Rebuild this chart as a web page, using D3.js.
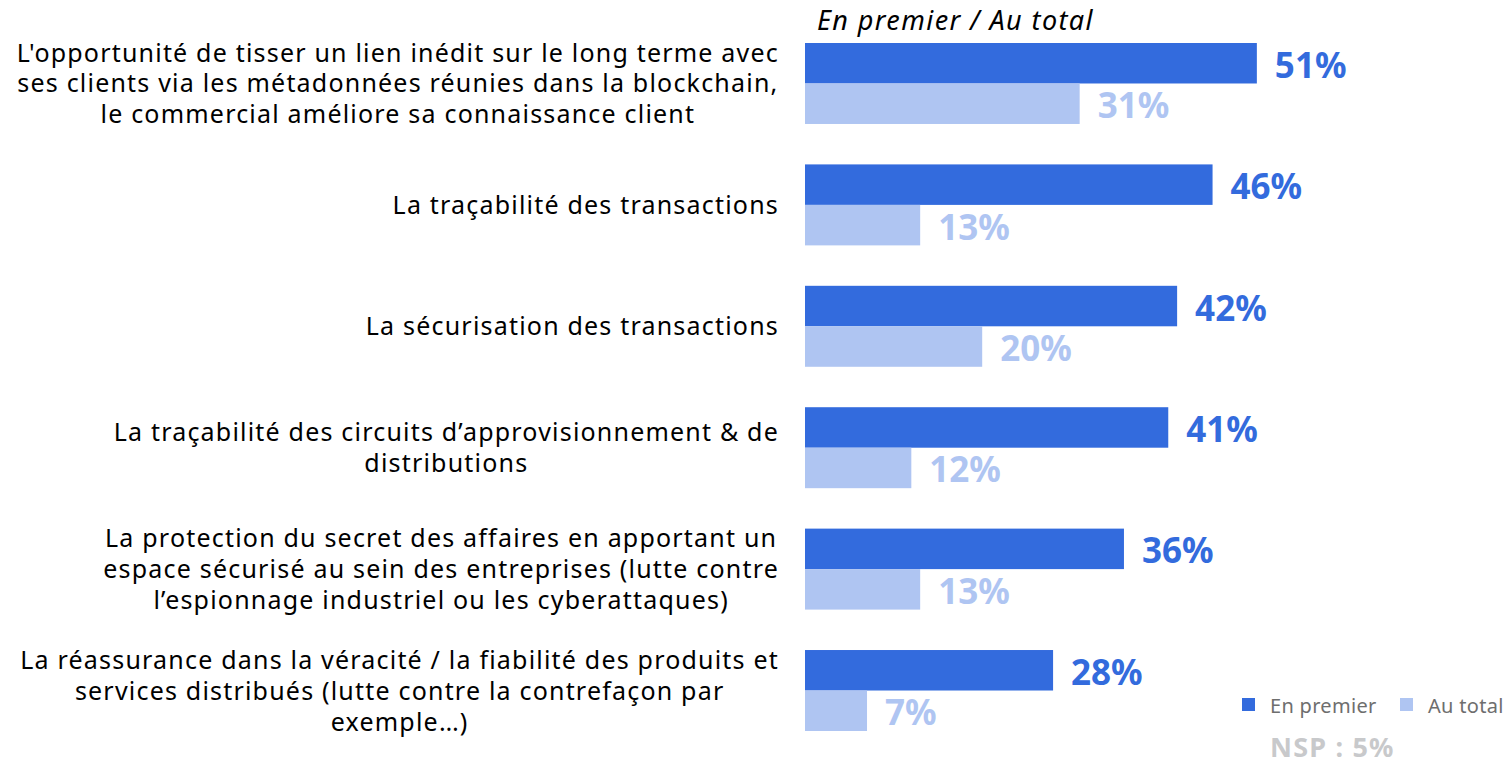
<!DOCTYPE html>
<html>
<head>
<meta charset="utf-8">
<script src="https://cdn.jsdelivr.net/npm/d3@7"></script>
<style>
  body { margin: 0; background: #fff; }
  svg { display: block; font-family: "Noto Sans", sans-serif; }
</style>
</head>
<body>
<svg id="chart"></svg>
<script>
const categories = [
  ["L'opportunité de tisser un lien inédit sur le long terme avec", "ses clients via les métadonnées réunies dans la blockchain,", "le commercial améliore sa connaissance client"],
  ["La traçabilité des transactions"],
  ["La sécurisation des transactions"],
  ["La traçabilité des circuits d\u2019approvisionnement & de", "distributions"],
  ["La protection du secret des affaires en apportant un", "espace sécurisé au sein des entreprises (lutte contre", "l\u2019espionnage industriel ou les cyberattaques)"],
  ["La réassurance dans la véracité / la fiabilité des produits et", "services distribués (lutte contre la contrefaçon par", "exemple\u2026)"]
];
const enPremier = [51, 46, 42, 41, 36, 28];
const auTotal = [31, 13, 20, 12, 13, 7];
const seriesNames = ["En premier", "Au total"];
const headerText = "En premier / Au total";
const nspText = "NSP : 5%";

const width = 1511, height = 763;
const colors = ["#336bdd", "#afc5f2"];

const svg = d3.select("#chart").attr("width", width).attr("height", height);

const x = d3.scaleLinear().domain([0, 100]).range([805, 1691]);
const y = d3.scaleBand().domain(d3.range(categories.length)).range([43, 731]).paddingInner(0.333).paddingOuter(0);
const ySub = d3.scaleBand().domain([0, 1]).range([0, y.bandwidth()]);

const rows = categories.map((c, i) => ({ i, lines: c, vals: [enPremier[i], auTotal[i]] }));

const g = svg.append("g");

const grp = g.selectAll("g.row").data(rows).enter().append("g")
  .attr("class", "row")
  .attr("transform", d => `translate(0,${y(d.i)})`);

grp.selectAll("rect").data(d => d.vals.map((v, k) => ({ v, k }))).enter().append("rect")
  .attr("x", x(0))
  .attr("y", d => ySub(d.k))
  .attr("width", d => x(d.v) - x(0))
  .attr("height", ySub.bandwidth())
  .attr("fill", d => colors[d.k]);

grp.selectAll("text.val").data(d => d.vals.map((v, k) => ({ v, k }))).enter().append("text")
  .attr("class", "val")
  .attr("x", d => x(d.v) + 18)
  .attr("y", d => ySub(d.k) + ySub.bandwidth() / 2 + 1)
  .attr("dominant-baseline", "central")
  .attr("font-size", 35)
  .attr("font-weight", "bold")
  .attr("fill", d => colors[d.k])
  .text(d => d.v + "%");

// category labels: block right-aligned, lines centred inside the block
const lineH = 31;
grp.each(function(d) {
  const t = d3.select(this).append("text")
    .attr("font-size", 25)
    .attr("letter-spacing", 1.2)
    .attr("fill", "#000")
    .attr("text-anchor", "middle");
  const n = d.lines.length;
  const spans = d.lines.map((l, j) => t.append("tspan")
    .attr("y", y.bandwidth() / 2 + (j - (n - 1) / 2) * lineH - 1)
    .attr("dominant-baseline", "central")
    .text(l));
  const maxW = d3.max(spans, s => s.node().getComputedTextLength());
  spans.forEach(s => s.attr("x", 779 - maxW / 2));
});

svg.append("text")
  .attr("x", 817).attr("y", 30)
  .attr("font-size", 27)
  .attr("letter-spacing", 1.4)
  .attr("font-style", "italic")
  .attr("fill", "#000")
  .text(headerText);

// legend
const legX = [1242, 1400];
const leg = svg.selectAll("g.leg").data(seriesNames).enter().append("g")
  .attr("class", "leg")
  .attr("transform", (d, i) => `translate(${legX[i]},698)`);
leg.append("rect").attr("width", 13).attr("height", 13).attr("fill", (d, i) => colors[i]);
leg.append("text")
  .attr("x", 28).attr("y", 7)
  .attr("dominant-baseline", "central")
  .attr("font-size", 20)
  .attr("letter-spacing", 0.3)
  .attr("fill", "#6e6e6e")
  .text(d => d);

svg.append("text")
  .attr("x", 1270).attr("y", 746)
  .attr("dominant-baseline", "central")
  .attr("font-size", 27)
  .attr("letter-spacing", 1.2)
  .attr("font-weight", "bold")
  .attr("fill", "#c8c9cb")
  .text(nspText);
</script>
</body>
</html>
